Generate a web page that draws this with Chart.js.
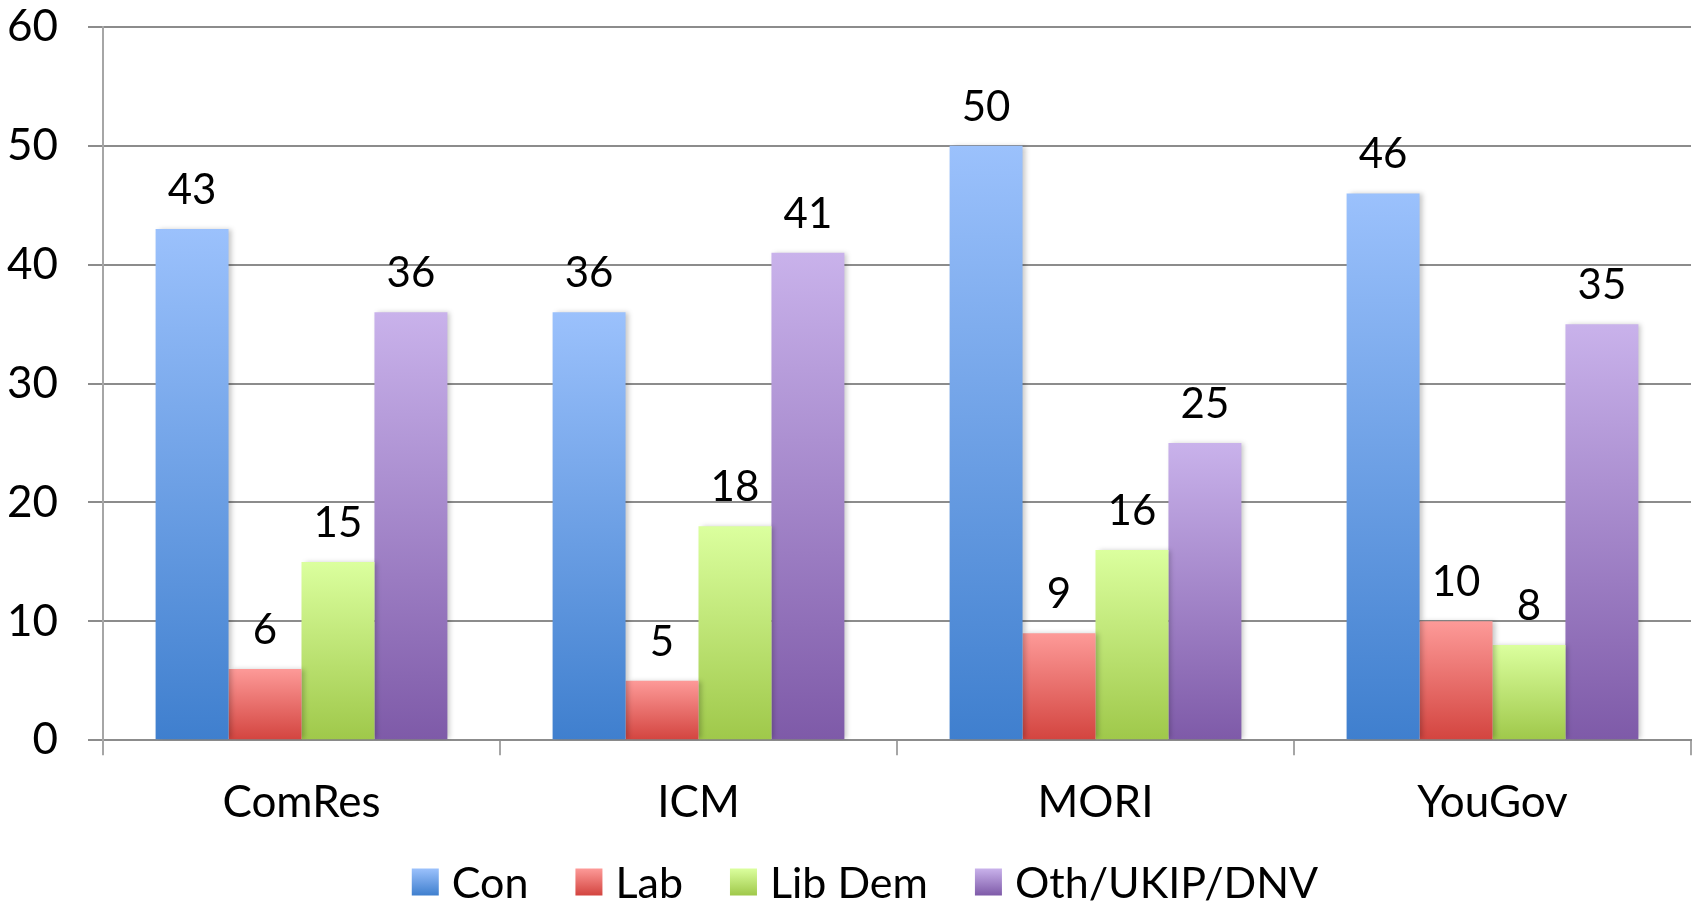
<!DOCTYPE html>
<html>
<head>
<meta charset="utf-8">
<script src="https://cdn.jsdelivr.net/npm/chart.js@4/dist/chart.umd.min.js"></script>
<style>
  html, body { margin: 0; padding: 0; background: #fff; }
  canvas { display: block; }
</style>
</head>
<body>
<canvas id="chart" width="1700" height="903"></canvas>
<script>
"use strict"

// == data
const pollsters = ["ComRes", "ICM", "MORI", "YouGov"]
const con = [43, 36, 50, 46]
const lab = [6, 5, 9, 10]
const libDem = [15, 18, 16, 8]
const other = [36, 41, 25, 35]
const seriesNames = ["Con", "Lab", "Lib Dem", "Oth/UKIP/DNV"]
const yTicks = [0, 10, 20, 30, 40, 50, 60]

// light top colour, dark bottom colour for each series
const shades = [
    ["#9bc1fc", "#3f7fce"],
    ["#fd9a98", "#d3443f"],
    ["#dbff9e", "#9fc84a"],
    ["#c9b2eb", "#7e5aa8"],
]

const FONT = "Lato, 'Open Sans', sans-serif"

function barFill(i) {
    return function(ctx) {
        const top = shades[i][0], bottom = shades[i][1]
        if (ctx.type !== "data" || !ctx.chart.chartArea) return bottom
        const y = ctx.chart.scales.y
        const yTop = y.getPixelForValue(ctx.parsed.y)
        const yBase = y.getPixelForValue(0)
        // scales may not be laid out yet on the first pass
        if (!isFinite(yTop) || !isFinite(yBase) || yTop === yBase) return bottom
        const g = ctx.chart.ctx.createLinearGradient(0, yTop, 0, yBase)
        g.addColorStop(0, top)
        g.addColorStop(1, bottom)
        return g
    }
}

// shadows under the bars, value labels on top, the legend row at the bottom
const decor = {
    id: "decor",
    beforeDatasetsDraw(chart) {
        const c = chart.ctx
        c.save()
        c.shadowColor = "rgba(0,0,0,0.22)"
        c.shadowBlur = 5
        c.shadowOffsetX = 3
        c.shadowOffsetY = 0
    },
    afterDatasetsDraw(chart) {
        const c = chart.ctx
        c.restore()
        c.save()
        c.font = "42px " + FONT
        c.fillStyle = "#000"
        c.textAlign = "center"
        c.textBaseline = "alphabetic"
        chart.data.datasets.forEach(function(ds, i) {
            const meta = chart.getDatasetMeta(i)
            meta.data.forEach(function(bar, j) {
                c.fillText(String(ds.data[j]), bar.x, bar.y - 25)
            })
        })
        c.restore()
    },
    afterDraw(chart) {
        const c = chart.ctx
        const box = 27, textGap = 13, itemGap = 47
        const midY = chart.height - 21
        c.save()
        c.font = "43px " + FONT
        c.textBaseline = "middle"
        c.textAlign = "left"
        let total = 0
        const widths = seriesNames.map(function(name) { return c.measureText(name).width })
        widths.forEach(function(w) { total += box + textGap + w })
        total += itemGap * (seriesNames.length - 1)
        let x = (chart.width - total) / 2 + 15
        seriesNames.forEach(function(name, i) {
            const top = midY - box / 2
            const g = c.createLinearGradient(0, top, 0, top + box)
            g.addColorStop(0, shades[i][0])
            g.addColorStop(1, shades[i][1])
            c.fillStyle = g
            c.fillRect(x, top, box, box)
            c.fillStyle = "#000"
            c.fillText(name, x + box + textGap, midY + 2)
            x += box + textGap + widths[i] + itemGap
        })
        c.restore()
    }
}

const datasets = [con, lab, libDem, other].map(function(values, i) {
    return {
        label: seriesNames[i],
        data: values,
        backgroundColor: barFill(i),
        borderWidth: 0,
        categoryPercentage: 0.735,
        barPercentage: 1.0,
    }
})

new Chart(document.getElementById("chart"), {
    type: "bar",
    data: { labels: pollsters, datasets: datasets },
    plugins: [decor],
    options: {
        responsive: false,
        animation: false,
        layout: { padding: { top: 0, right: 9, left: 0, bottom: 53 } },
        plugins: {
            tooltip: { enabled: false },
            legend: { display: false },
        },
        scales: {
            x: {
                grid: {
                    offset: true,
                    drawOnChartArea: false,
                    drawTicks: true,
                    tickLength: 15,
                    color: "#a6a6a6",
                    lineWidth: 2,
                },
                border: { color: "#8c8c8c", width: 2 },
                ticks: {
                    font: { family: FONT, size: 44 },
                    color: "#000",
                    padding: 21,
                },
            },
            y: {
                min: 0,
                max: 60,
                afterBuildTicks(scale) {
                    scale.ticks = yTicks.map(function(v) { return { value: v } })
                },
                afterFit(scale) {
                    scale.width = 103
                    scale.paddingTop = 27
                    scale.paddingBottom = 27
                },
                grid: {
                    color: "#8c8c8c",
                    lineWidth: 2,
                    tickLength: 15,
                },
                border: { color: "#a6a6a6", width: 2 },
                ticks: {
                    font: { family: FONT, size: 44 },
                    color: "#000",
                    padding: 30,
                },
            }
        }
    }
})
</script>
</body>
</html>
